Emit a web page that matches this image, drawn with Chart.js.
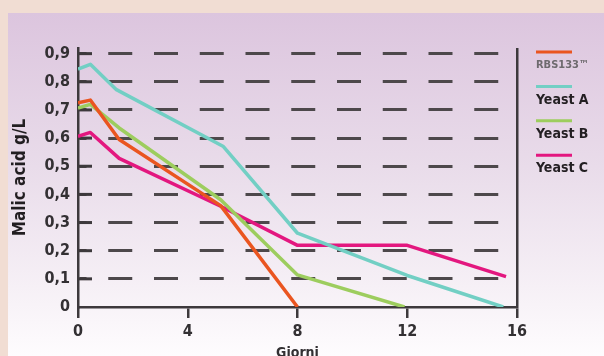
<!DOCTYPE html>
<html>
<head>
<meta charset="utf-8">
<script src="https://cdn.jsdelivr.net/npm/chart.js@4.4.0/dist/chart.umd.min.js"></script>
<style>
    body { margin: 0; }
    #sfondo {
        position: relative;
        width: 604px;
        height: 356px;
        background: #f1ddd3;
        overflow: hidden;
    }
    #pannello {
        position: absolute;
        left: 8px;
        top: 13px;
        right: 0;
        bottom: 0;
        background: linear-gradient(to bottom, #dcc5de 0%, #e9dcea 45%, #f6f0f6 80%, #fefcfe 100%);
    }
    #contenitore {
        position: absolute;
        left: 0;
        top: 0;
        width: 604px;
        height: 356px;
    }
</style>
</head>
<body>
<div id="sfondo">
    <div id="pannello"></div>
    <div id="contenitore"><canvas id="grafico-malico"></canvas></div>
</div>
<script>
// Dati: giorni e acido malico (g/L)
const etichette = ["RBS133™", "Yeast A", "Yeast B", "Yeast C"]

const giorniRBS = [0, 0.45, 1.5, 5.2, 8]
const valoriRBS = [0.725, 0.735, 0.595, 0.36, 0]

const giorniA = [0, 0.45, 1.4, 5.3, 8, 12, 15.5]
const valoriA = [0.845, 0.862, 0.772, 0.57, 0.262, 0.112, 0]

const giorniB = [0, 0.45, 1.5, 5.2, 8, 11.9]
const valoriB = [0.707, 0.72, 0.636, 0.381, 0.114, 0]

const giorniC = [0, 0.45, 1.5, 5.2, 8, 12, 15.6]
const valoriC = [0.606, 0.62, 0.528, 0.358, 0.219, 0.219, 0.108]

const tickGiorni = [0, 4, 8, 12, 16]
const tickMalico = [0, 0.1, 0.2, 0.3, 0.4, 0.5, 0.6, 0.7, 0.8, 0.9]

const colori = ["#ea5520", "#72cfc4", "#9dcd5e", "#e3177f"]
const coloreAssi = "#3d393c"
const coloreGriglia = "#4d484b"
const fonte = "'DejaVu Sans Condensed', 'DejaVu Sans', sans-serif"

const punti = (giorni, valori) => giorni.map((g, i) => ({ x: g, y: valori[i] }))

// tacche interne sull'asse y e legenda a destra
const pluginExtra = {
    id: 'extra',
    beforeDatasetsDraw(chart) {
        const { ctx, chartArea, scales: { y } } = chart
        ctx.save()
        ctx.strokeStyle = coloreAssi
        ctx.lineWidth = 3
        y.ticks.forEach((t, i) => {
            if (t.value === 0) return
            const py = y.getPixelForTick(i)
            ctx.beginPath()
            ctx.moveTo(chartArea.left, py)
            ctx.lineTo(chartArea.left + 14, py)
            ctx.stroke()
        })
        ctx.restore()
    },
    afterDraw(chart) {
        const { ctx, chartArea } = chart
        const x0 = chartArea.right + 19
        ctx.save()
        chart.data.datasets.forEach((ds, i) => {
            const yy = chartArea.top + 4 + i * 34.4
            ctx.strokeStyle = ds.borderColor
            ctx.lineWidth = 3
            ctx.beginPath()
            ctx.moveTo(x0, yy)
            ctx.lineTo(x0 + 36, yy)
            ctx.stroke()
            ctx.textBaseline = 'middle'
            ctx.textAlign = 'left'
            ctx.font = i === 0 ? `bold 11px ${fonte}` : `bold 14px ${fonte}`
            ctx.fillStyle = i === 0 ? '#6e6a6e' : '#231f22'
            ctx.fillText(ds.label, x0, yy + 13.5)
        })
        ctx.restore()
    }
}

let graficoMalico = new Chart(
    document.getElementById("grafico-malico"),
    {
        type: "line",
        data: {
            datasets: [
                { label: etichette[0], data: punti(giorniRBS, valoriRBS) },
                { label: etichette[1], data: punti(giorniA, valoriA) },
                { label: etichette[2], data: punti(giorniB, valoriB) },
                { label: etichette[3], data: punti(giorniC, valoriC) },
            ].map((ds, i) => ({
                ...ds,
                borderColor: colori[i],
                backgroundColor: colori[i],
                borderWidth: 3.5,
                borderJoinStyle: 'round',
                pointRadius: 0,
                tension: 0,
                fill: false,
            }))
        },
        options: {
            responsive: true,
            maintainAspectRatio: false,
            animation: false,
            layout: {
                padding: { top: 48, right: 87, bottom: 0, left: 0 }
            },
            plugins: {
                legend: { display: false },
                tooltip: { enabled: false }
            },
            scales: {
                x: {
                    type: 'linear',
                    min: 0,
                    max: 16,
                    afterBuildTicks: scala => {
                        scala.ticks = tickGiorni.map(v => ({ value: v }))
                    },
                    afterFit: scala => { scala.height = 49 },
                    grid: {
                        color: c => c.tick && c.tick.value === 16 ? coloreAssi : 'transparent',
                        lineWidth: 2.5,
                        tickColor: coloreAssi,
                        tickLength: 11,
                        tickWidth: 2.5,
                    },
                    border: { display: true, color: coloreAssi, width: 2.5 },
                    ticks: {
                        padding: 4,
                        color: '#333033',
                        font: { family: fonte, size: 16, weight: 'bold' },
                    },
                    title: {
                        display: true,
                        text: 'Giorni',
                        color: '#333033',
                        font: { family: fonte, size: 14, weight: 'bold', lineHeight: 1 },
                        padding: { top: 0, bottom: -4 },
                    }
                },
                y: {
                    min: 0,
                    max: 0.92,
                    afterBuildTicks: scala => {
                        scala.ticks = tickMalico.map(v => ({ value: v }))
                    },
                    afterFit: scala => { scala.width = 78 },
                    grid: {
                        color: c => c.tick && c.tick.value === 0 ? 'transparent' : coloreGriglia,
                        lineWidth: 3,
                        drawTicks: false,
                    },
                    border: { display: true, color: coloreAssi, width: 2.5, dash: [24, 21.75], dashOffset: 17 },
                    ticks: {
                        padding: 8,
                        color: '#333033',
                        font: { family: fonte, size: 16, weight: 'bold' },
                        callback: v => v === 0 ? '0' : v.toFixed(1).replace('.', ',')
                    },
                    title: {
                        display: true,
                        text: 'Malic acid g/L',
                        color: '#221e21',
                        font: { family: fonte, size: 17, weight: 'bold', lineHeight: 1.2 },
                        padding: { top: 10, bottom: 0 },
                    }
                }
            }
        },
        plugins: [pluginExtra]
    }
)
</script>
</body>
</html>
